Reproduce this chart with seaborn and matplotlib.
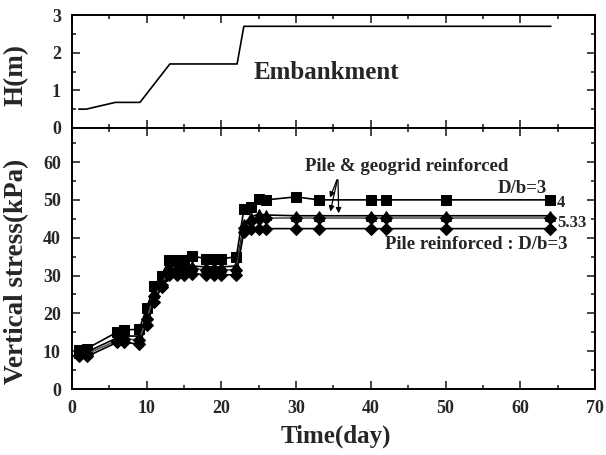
import matplotlib
matplotlib.use("Agg")
import matplotlib.pyplot as plt
import seaborn as sns
import numpy as np

sns.set_style("ticks")
plt.rcParams['font.family'] = ['Liberation Serif', 'DejaVu Serif']
plt.rcParams['font.weight'] = 'bold'

# Embankment height
h_days = [0.9, 1.9, 5.8, 9.1, 13.1, 22.1, 23.0, 64.1]
h_vals = [0.5, 0.5, 0.68, 0.68, 1.7, 1.7, 2.7, 2.7]

# Vertical stress
days = [1, 2, 6, 7, 9, 10, 11, 12, 13, 14, 15, 16, 18, 19, 20, 22, 23, 24, 25, 26, 30, 33, 40, 42, 50, 64]
pg_db3 = [10.3, 10.7, 15.0, 15.6, 15.8, 21.4, 27.3, 30.0, 34.2, 34.2, 34.2, 35.1, 34.5, 34.5, 34.5, 34.9,
          47.5, 48.2, 50.3, 50.0, 50.8, 50.0, 50.0, 50.0, 50.0, 50.0]
pg_db4 = [9.5, 9.8, 13.5, 14.0, 14.0, 19.5, 25.5, 28.5, 32.5, 32.5, 32.5, 32.5, 32.3, 32.3, 32.3, 32.5,
          43.5, 45.5, 46.3, 46.0, 45.8, 45.8, 45.8, 45.8, 45.8, 45.8]
pg_db533 = [9.0, 9.3, 12.8, 13.2, 13.0, 18.5, 24.5, 27.5, 31.5, 31.5, 31.5, 31.8, 31.5, 31.5, 31.5, 31.5,
            42.5, 44.5, 45.0, 45.2, 45.2, 45.2, 45.2, 45.2, 45.2, 45.2]
p_db3 = [8.6, 8.6, 12.3, 12.3, 11.9, 17.0, 23.0, 27.0, 30.2, 30.2, 30.2, 30.5, 30.2, 30.2, 30.2, 30.2,
         41.5, 42.4, 42.4, 42.4, 42.4, 42.4, 42.4, 42.4, 42.4, 42.4]

x_ticks = [0, 10, 20, 30, 40, 50, 60, 70]
y_ticks = [0, 10, 20, 30, 40, 50, 60]
h_ticks = [0, 1, 2, 3]

fig = plt.figure(figsize=(6.06, 4.55), dpi=100)
ax1 = fig.add_axes([0.1188, 0.7187, 0.863, 0.2483])
ax2 = fig.add_axes([0.1188, 0.145, 0.863, 0.5737])

sns.lineplot(x=h_days, y=h_vals, ax=ax1, color='black', linewidth=1.2)
ax1.set_xlim(0, 70)
ax1.set_ylim(0, 3)
ax1.set_xticks(x_ticks)
ax1.set_xticklabels([])
ax1.set_yticks(h_ticks)
ax1.set_ylabel('H(m)', fontsize=19.5, fontweight='bold')
ax1.yaxis.set_label_coords(-0.082, 0.47)
ax1.text(34, 1.47, 'Embankment', fontsize=18, fontweight='bold', ha='center', va='center')

series = [
    (pg_db3, 's', 'black', '-'),
    (pg_db4, '^', 'black', '-'),
    (pg_db533, 'D', '#555555', '-'),
    (p_db3, 'D', 'black', '-'),
]
for vals, mk, lc, ls in series:
    sns.lineplot(x=days, y=vals, ax=ax2, color=lc, linestyle=ls, linewidth=1.2,
                 marker=mk, markersize=6.5 if mk != 'D' else 6,
                 markerfacecolor='black', markeredgecolor='black')

ax2.set_xlim(0, 70)
ax2.set_ylim(0, 69)
ax2.set_xticks(x_ticks)
ax2.set_yticks(y_ticks)
ax2.set_xlabel('Time(day)', fontsize=18, fontweight='bold')
ax2.xaxis.set_label_coords(0.505, -0.135)
ax2.set_ylabel('Vertical stress(kPa)', fontsize=19.5, fontweight='bold')
ax2.yaxis.set_label_coords(-0.082, 0.45)

for ax in (ax1, ax2):
    ax.xaxis.set_minor_locator(matplotlib.ticker.MultipleLocator(5))
    ax.yaxis.set_minor_locator(matplotlib.ticker.MultipleLocator(5 if ax is ax2 else 0.5))
    ax.tick_params(which='both', direction='in', top=True, right=True, width=1.2)
    ax.tick_params(which='major', length=6, labelsize=13, pad=8)
    ax.tick_params(which='minor', length=3)
    for lab in ax.get_xticklabels() + ax.get_yticklabels():
        lab.set_fontweight('bold')
    for sp in ax.spines.values():
        sp.set_linewidth(1.4)
        sp.set_color('black')

ax2.text(44.8, 58.7, 'Pile & geogrid reinforced', fontsize=13.5, fontweight='bold', ha='center', va='center')
ax2.text(60.3, 53.0, 'D/b=3', fontsize=13.5, fontweight='bold', ha='center', va='center')
ax2.text(64.9, 49.3, '4', fontsize=12, fontweight='bold', ha='left', va='center')
ax2.text(64.9, 44.0, '5.33', fontsize=12, fontweight='bold', ha='left', va='center')
ax2.text(54.1, 38.2, 'Pile reinforced : D/b=3', fontsize=13.5, fontweight='bold', ha='center', va='center')

for tx, ty in [(34.4, 49.9), (34.5, 46.2), (35.7, 45.7)]:
    ax2.annotate('', xy=(tx, ty), xytext=(35.6, 56.0),
                 arrowprops=dict(arrowstyle='-|>', color='black', lw=0.9, mutation_scale=8))

fig.savefig('out.png', dpi=100)
